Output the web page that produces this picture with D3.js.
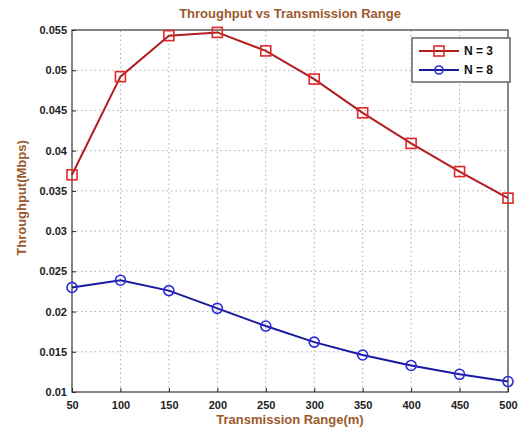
<!DOCTYPE html>
<html>
<head>
<meta charset="utf-8">
<script src="https://cdn.jsdelivr.net/npm/d3@7"></script>
<style>
  body { margin: 0; background: #fff; }
  text { font-family: "Liberation Sans", Arial, sans-serif; }
</style>
</head>
<body>
<div id="chart"></div>
<script>
// Data
const ranges = [50, 100, 150, 200, 250, 300, 350, 400, 450, 500];
const throughputN3 = [0.0370, 0.0492, 0.0543, 0.0547, 0.0524, 0.0489, 0.0447, 0.0409, 0.0374, 0.0341];
const throughputN8 = [0.0230, 0.0239, 0.0226, 0.0204, 0.0182, 0.0162, 0.0146, 0.0133, 0.0122, 0.0113];
const yTicks = [0.01, 0.015, 0.02, 0.025, 0.03, 0.035, 0.04, 0.045, 0.05, 0.055];
const seriesNames = ["N = 3", "N = 8"];

const width = 527, height = 441;
const margin = { top: 30, right: 19, bottom: 49, left: 72 };

const svg = d3.select("#chart").append("svg")
  .attr("width", width)
  .attr("height", height);

// scales
const x = d3.scaleLinear().domain([50, 500]).range([margin.left, width - margin.right]);
const y = d3.scaleLinear().domain([0.01, 0.055]).range([height - margin.bottom, margin.top]);

// grid lines (dotted)
svg.append("g").selectAll("line")
  .data(ranges.slice(1, -1))
  .join("line")
  .attr("x1", d => x(d)).attr("x2", d => x(d))
  .attr("y1", y(0.01)).attr("y2", y(0.055))
  .attr("stroke", "#999").attr("stroke-width", 0.8)
  .attr("stroke-dasharray", "1.5,3");
svg.append("g").selectAll("line")
  .data(yTicks.slice(1, -1))
  .join("line")
  .attr("x1", x(50)).attr("x2", x(500))
  .attr("y1", d => y(d)).attr("y2", d => y(d))
  .attr("stroke", "#999").attr("stroke-width", 0.8)
  .attr("stroke-dasharray", "1.5,3");

// axes
const xAxis = d3.axisBottom(x).tickValues(ranges).tickSize(-4).tickPadding(9);
const yAxis = d3.axisLeft(y).tickValues(yTicks).tickSize(-4).tickPadding(5)
  .tickFormat(d => String(+d.toFixed(3)));

const gx = svg.append("g")
  .attr("transform", `translate(0, ${height - margin.bottom})`)
  .call(xAxis);
const gy = svg.append("g")
  .attr("transform", `translate(${margin.left}, 0)`)
  .call(yAxis);
[gx, gy].forEach(g => {
  g.select(".domain").remove();
  g.selectAll("line").attr("stroke", "#222");
  g.selectAll("text")
    .attr("fill", "#222")
    .style("font-size", "11px")
    .style("font-weight", "bold");
});

// plot box
svg.append("rect")
  .attr("x", margin.left).attr("y", margin.top)
  .attr("width", width - margin.left - margin.right)
  .attr("height", height - margin.top - margin.bottom)
  .attr("fill", "none").attr("stroke", "#333").attr("stroke-width", 1.2);

// lines
const line = d3.line().x((d, i) => x(ranges[i])).y(d => y(d));

svg.append("path").datum(throughputN3)
  .attr("d", line).attr("fill", "none")
  .attr("stroke", "#b01e1e").attr("stroke-width", 2);
svg.append("g").selectAll("rect")
  .data(throughputN3)
  .join("rect")
  .attr("x", (d, i) => x(ranges[i]) - 5)
  .attr("y", d => y(d) - 5)
  .attr("width", 10).attr("height", 10)
  .attr("fill", "none").attr("stroke", "#e02828").attr("stroke-width", 1.6);

svg.append("path").datum(throughputN8)
  .attr("d", line).attr("fill", "none")
  .attr("stroke", "#1a1aa0").attr("stroke-width", 2);
svg.append("g").selectAll("circle")
  .data(throughputN8)
  .join("circle")
  .attr("cx", (d, i) => x(ranges[i]))
  .attr("cy", d => y(d))
  .attr("r", 5)
  .attr("fill", "none").attr("stroke", "#2a2ad8").attr("stroke-width", 1.6);

// legend
const lg = svg.append("g").attr("transform", "translate(412, 38)");
lg.append("rect")
  .attr("width", 98).attr("height", 44)
  .attr("fill", "#fff").attr("stroke", "#666").attr("stroke-width", 1.5);
lg.append("line").attr("x1", 7).attr("x2", 47).attr("y1", 13).attr("y2", 13)
  .attr("stroke", "#b01e1e").attr("stroke-width", 2);
lg.append("rect").attr("x", 22).attr("y", 8).attr("width", 10).attr("height", 10)
  .attr("fill", "none").attr("stroke", "#e02828").attr("stroke-width", 1.6);
lg.append("line").attr("x1", 7).attr("x2", 47).attr("y1", 32).attr("y2", 32)
  .attr("stroke", "#1a1aa0").attr("stroke-width", 2);
lg.append("circle").attr("cx", 27).attr("cy", 32).attr("r", 4)
  .attr("fill", "none").attr("stroke", "#2a2ad8").attr("stroke-width", 1.6);
lg.selectAll("text.lbl")
  .data(seriesNames)
  .join("text")
  .attr("class", "lbl")
  .attr("x", 52).attr("y", (d, i) => 17 + i * 19)
  .style("font-size", "12px").style("font-weight", "bold")
  .attr("fill", "#111")
  .text(d => d);

// title and axis labels
svg.append("text")
  .attr("x", (margin.left + width - margin.right) / 2).attr("y", 18)
  .attr("text-anchor", "middle")
  .style("font-size", "13px").style("font-weight", "bold")
  .attr("fill", "#9c5a2c")
  .text("Throughput vs Transmission Range");
svg.append("text")
  .attr("x", (margin.left + width - margin.right) / 2).attr("y", 424)
  .attr("text-anchor", "middle")
  .style("font-size", "13px").style("font-weight", "bold")
  .attr("fill", "#9c5a2c")
  .text("Transmission Range(m)");
svg.append("text")
  .attr("transform", "translate(26, 198) rotate(-90)")
  .attr("text-anchor", "middle")
  .style("font-size", "13px").style("font-weight", "bold")
  .attr("fill", "#9c5a2c")
  .text("Throughput(Mbps)");
</script>
</body>
</html>
